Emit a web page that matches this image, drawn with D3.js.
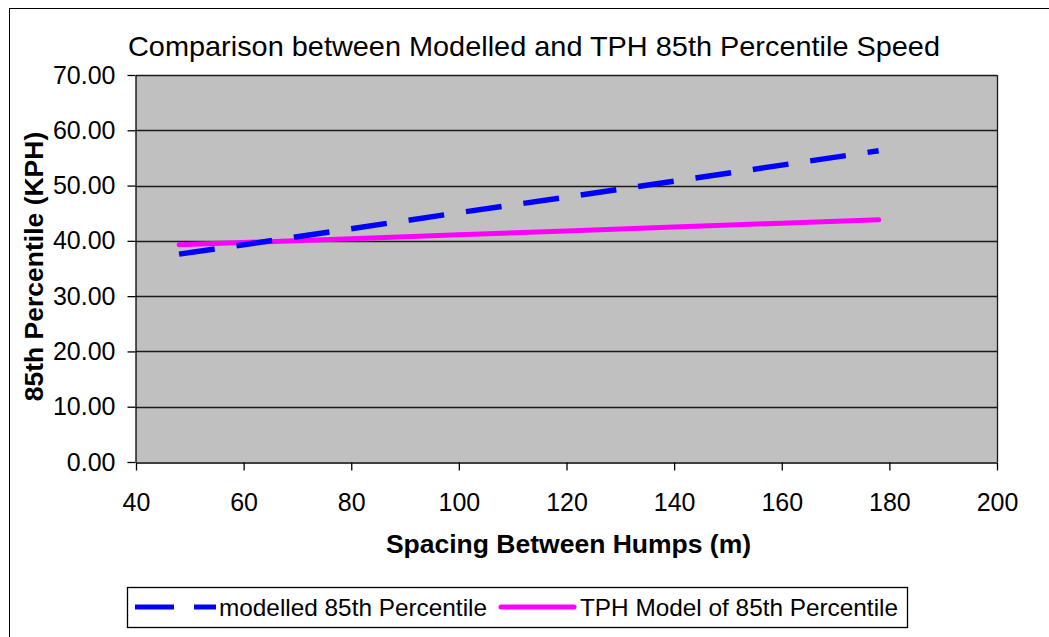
<!DOCTYPE html>
<html>
<head>
<meta charset="utf-8">
<script src="https://cdn.jsdelivr.net/npm/d3@7"></script>
<style>
  body { margin: 0; background: #fff; }
  svg { display: block; }
</style>
</head>
<body>
<div id="chart"></div>
<script>
// spacing between humps (m) and the two speed series (kph)
var spacing = [48, 60, 80, 100, 120, 140, 160, 178];
var modelled = [37.6, 39.3, 42.2, 45.1, 47.9, 50.8, 53.7, 56.3];
var tph = [39.3, 39.7, 40.4, 41.1, 41.8, 42.5, 43.2, 43.8];
var xTicks = [40, 60, 80, 100, 120, 140, 160, 180, 200];
var yTicks = [0, 10, 20, 30, 40, 50, 60, 70];
var seriesNames = ["modelled 85th Percentile", "TPH Model of 85th Percentile"];

var width = 1049, height = 637;
var plot = {"left": 136, "right": 997, "top": 75, "bottom": 462};
var font = "Arial, 'Liberation Sans', sans-serif";

var svg = d3.select('#chart').append('svg')
    .attr('width', width)
    .attr('height', height);

// outer chart frame (only left/top are visible in the picture)
svg.append('rect')
    .attr('x', 9.5).attr('y', 8.5)
    .attr('width', width + 20).attr('height', height + 20)
    .attr('fill', 'white')
    .attr('stroke', 'black')
    .attr('stroke-width', 1);

var x = d3.scaleLinear().domain([40, 200]).range([plot.left, plot.right]);
var y = d3.scaleLinear().domain([0, 70]).range([plot.bottom, plot.top]);

// plot area
svg.append('rect')
    .attr('x', plot.left).attr('y', plot.top)
    .attr('width', plot.right - plot.left)
    .attr('height', plot.bottom - plot.top)
    .attr('fill', '#c0c0c0');

// gridlines
svg.selectAll('.grid')
    .data(yTicks.slice(1))
    .enter()
    .append('line')
    .attr('x1', plot.left).attr('x2', plot.right)
    .attr('y1', function(d){ return Math.round(y(d)) + 0.5; })
    .attr('y2', function(d){ return Math.round(y(d)) + 0.5; })
    .attr('stroke', '#1a1a1a')
    .attr('stroke-width', 1.3);

// right border of plot
svg.append('line')
    .attr('x1', plot.right + 0.5).attr('x2', plot.right + 0.5)
    .attr('y1', plot.top).attr('y2', plot.bottom)
    .attr('stroke', '#1a1a1a')
    .attr('stroke-width', 1.3);

// axes
var xAxis = d3.axisBottom(x).tickValues(xTicks).tickSizeOuter(0).tickSizeInner(8).tickPadding(23);
var yAxis = d3.axisLeft(y).tickValues(yTicks).tickSizeOuter(0).tickSizeInner(8).tickPadding(12)
    .tickFormat(d3.format('.2f'));

var gx = svg.append('g')
    .attr('transform', 'translate(0,' + (plot.bottom + 0.5) + ')')
    .call(xAxis);
var gy = svg.append('g')
    .attr('transform', 'translate(' + (plot.left - 0.5) + ',0)')
    .call(yAxis);

[gx, gy].forEach(function(g){
    g.selectAll('path, line').attr('stroke', 'black').attr('stroke-width', 1.3);
    g.selectAll('text')
        .attr('font-family', font)
        .attr('font-size', '25px')
        .attr('fill', 'black');
});
gx.selectAll('text').attr('dy', '0.71em');

// series
var line = d3.line()
    .x(function(d){ return x(d[0]); })
    .y(function(d){ return y(d[1]); });

svg.append('path')
    .datum(d3.zip(spacing, tph))
    .attr('d', line)
    .attr('fill', 'none')
    .attr('stroke', '#ff00ff')
    .attr('stroke-width', 5)
    .attr('stroke-linecap', 'round');

svg.append('path')
    .datum(d3.zip(spacing, modelled))
    .attr('d', line)
    .attr('fill', 'none')
    .attr('stroke', '#0000ff')
    .attr('stroke-width', 5.5)
    .attr('stroke-dasharray', '36,22');

// title
svg.append('text')
    .attr('x', 128).attr('y', 56)
    .attr('textLength', 812)
    .attr('lengthAdjust', 'spacingAndGlyphs')
    .attr('font-family', font)
    .attr('font-size', '28px')
    .attr('fill', 'black')
    .text('Comparison between Modelled and TPH 85th Percentile Speed');

// axis titles
svg.append('text')
    .attr('x', (plot.left + plot.right) / 2 + 2).attr('y', 553)
    .attr('text-anchor', 'middle')
    .attr('font-family', font)
    .attr('font-weight', 'bold')
    .attr('font-size', '26.5px')
    .attr('fill', 'black')
    .text('Spacing Between Humps (m)');

svg.append('text')
    .attr('transform', 'translate(43,' + ((plot.top + plot.bottom) / 2 - 2) + ') rotate(-90)')
    .attr('text-anchor', 'middle')
    .attr('font-family', font)
    .attr('font-weight', 'bold')
    .attr('font-size', '26.5px')
    .attr('fill', 'black')
    .text('85th Percentile (KPH)');

// legend
var legend = svg.append('g');
legend.append('rect')
    .attr('x', 127.5).attr('y', 587.5)
    .attr('width', 780).attr('height', 40)
    .attr('fill', 'white')
    .attr('stroke', 'black')
    .attr('stroke-width', 1.3);

var legend_data = [
    {"x1": 135, "x2": 216, "tx": 219, "tw": 268, "color": "#0000ff", "dash": "39,20", "cap": "butt", "name": seriesNames[0]},
    {"x1": 501, "x2": 574, "tx": 580, "tw": 318, "color": "#ff00ff", "dash": null, "cap": "round", "name": seriesNames[1]}
];

legend.selectAll('.legend_line')
    .data(legend_data)
    .enter()
    .append('line')
    .attr('x1', function(d){ return d.x1; })
    .attr('x2', function(d){ return d.x2; })
    .attr('y1', 607).attr('y2', 607)
    .attr('stroke', function(d){ return d.color; })
    .attr('stroke-width', 5)
    .attr('stroke-linecap', function(d){ return d.cap; })
    .attr('stroke-dasharray', function(d){ return d.dash; });

legend.selectAll('.legend_text')
    .data(legend_data)
    .enter()
    .append('text')
    .attr('x', function(d){ return d.tx; })
    .attr('y', 616)
    .attr('textLength', function(d){ return d.tw; })
    .attr('lengthAdjust', 'spacingAndGlyphs')
    .attr('font-family', font)
    .attr('font-size', '24px')
    .attr('fill', 'black')
    .text(function(d){ return d.name; });
</script>
</body>
</html>
